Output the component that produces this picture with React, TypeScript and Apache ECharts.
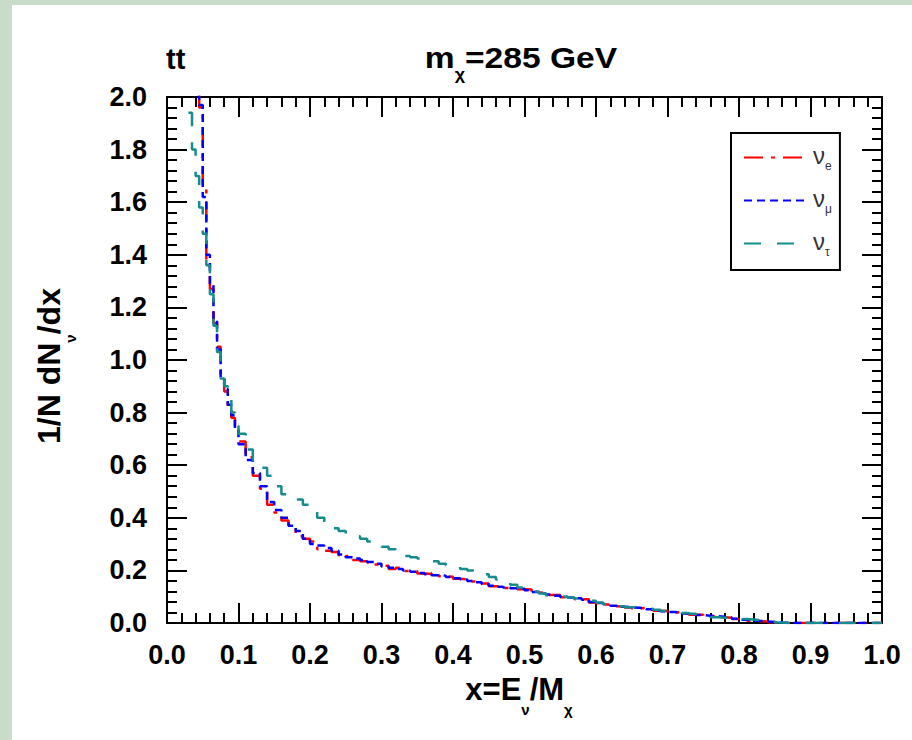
import React, { useEffect, useRef } from "react";
import * as echarts from "echarts";

// Bin left edges (x = E_nu / M_chi)
const binStart = [
  0.025, 0.03, 0.035, 0.04, 0.045, 0.05, 0.055, 0.06, 0.065, 0.07, 0.075, 0.08, 0.085, 0.09, 0.095,
  0.10, 0.11, 0.12, 0.13, 0.14, 0.15, 0.16, 0.17, 0.18, 0.19,
  0.20, 0.21, 0.22, 0.23, 0.24, 0.25, 0.26, 0.27, 0.28, 0.29,
  0.30, 0.31, 0.32, 0.33, 0.34, 0.35, 0.36, 0.37, 0.38, 0.39,
  0.40, 0.41, 0.42, 0.43, 0.44, 0.45, 0.46, 0.47, 0.48, 0.49,
  0.50, 0.51, 0.52, 0.53, 0.54, 0.55, 0.56, 0.57, 0.58, 0.59,
  0.60, 0.61, 0.62, 0.63, 0.64, 0.65, 0.66, 0.67, 0.68, 0.69,
  0.70, 0.71, 0.72, 0.73, 0.74, 0.75, 0.76, 0.77, 0.78, 0.79,
  0.80, 0.81, 0.82, 0.83, 0.84, 0.85, 0.86, 0.87, 0.88, 0.89,
  0.90, 0.91, 0.92, 0.93, 0.94, 0.95, 0.96, 0.97, 0.98, 0.99,
];
const xEnd = 1.0;

const nuE = [
  null, null, null, 2.6, 1.96, 1.65, 1.38, 1.27, 1.14, 1.05, 0.94, 0.88, 0.82, 0.78, 0.73,
  0.69, 0.63, 0.56, 0.51, 0.45, 0.42, 0.39, 0.37, 0.33, 0.32,
  0.31, 0.28, 0.275, 0.27, 0.25, 0.255, 0.24, 0.235, 0.23, 0.222,
  0.218, 0.205, 0.21, 0.198, 0.198, 0.188, 0.186, 0.19, 0.178, 0.176,
  0.168, 0.166, 0.158, 0.156, 0.15, 0.14, 0.14, 0.133, 0.134, 0.128,
  0.127, 0.116, 0.114, 0.106, 0.106, 0.098, 0.095, 0.09, 0.09, 0.078,
  0.075, 0.07, 0.064, 0.063, 0.059, 0.055, 0.057, 0.05, 0.047, 0.046,
  0.04, 0.041, 0.035, 0.031, 0.031, 0.027, 0.025, 0.022, 0.02, 0.015,
  0.013, 0.009, 0.007, 0.006, 0.003, 0.002, 0, 0, 0, 0,
  0, 0, 0, 0, 0, 0, 0, 0, 0, 0,
];

const nuMu = [
  null, null, null, 2.6, 1.97, 1.62, 1.4, 1.29, 1.15, 1.04, 0.93, 0.89, 0.83, 0.79, 0.74,
  0.68, 0.62, 0.57, 0.52, 0.46, 0.43, 0.4, 0.37, 0.35, 0.32,
  0.3, 0.295, 0.285, 0.275, 0.26, 0.25, 0.245, 0.24, 0.232, 0.225,
  0.215, 0.21, 0.205, 0.2, 0.195, 0.19, 0.185, 0.182, 0.18, 0.175,
  0.17, 0.165, 0.16, 0.155, 0.148, 0.142, 0.138, 0.135, 0.132, 0.13,
  0.125, 0.118, 0.112, 0.108, 0.104, 0.1, 0.097, 0.094, 0.088, 0.08,
  0.076, 0.071, 0.066, 0.062, 0.06, 0.058, 0.056, 0.052, 0.048, 0.045,
  0.042, 0.04, 0.036, 0.033, 0.03, 0.028, 0.026, 0.024, 0.021, 0.016,
  0.012, 0.01, 0.008, 0.006, 0.004, 0.002, 0, 0, 0, 0,
  0, 0, 0, 0, 0, 0, 0, 0, 0, 0,
];

const nuTau = [
  null, 1.94, 1.8, 1.7, 1.58, 1.48, 1.36, 1.25, 1.13, 1.03, 0.93, 0.9, 0.85, 0.8, 0.75,
  0.72, 0.66, 0.61, 0.59, 0.56, 0.52, 0.49, 0.48, 0.47, 0.45,
  0.43, 0.4, 0.38, 0.36, 0.35, 0.34, 0.33, 0.32, 0.31, 0.3,
  0.29, 0.28, 0.27, 0.255, 0.25, 0.245, 0.24, 0.235, 0.225, 0.22,
  0.215, 0.205, 0.2, 0.19, 0.185, 0.175, 0.165, 0.155, 0.145, 0.135,
  0.128, 0.12, 0.112, 0.105, 0.102, 0.1, 0.097, 0.093, 0.088, 0.085,
  0.078, 0.072, 0.068, 0.064, 0.06, 0.058, 0.056, 0.054, 0.05, 0.046,
  0.044, 0.042, 0.038, 0.035, 0.03, 0.026, 0.022, 0.02, 0.019, 0.018,
  0.015, 0.013, 0.011, 0.008, 0.005, 0.002, 0, 0, 0, 0,
  0, 0, 0, 0, 0, 0, 0, 0, 0, 0,
];

const seriesNames = ["ν_e", "ν_μ", "ν_τ"];
const legendSubs = ["e", "μ", "τ"];
const seriesColors = ["#ff0000", "#0000ff", "#178c8c"];
const seriesDash = [
  [19, 8, 4, 8],
  [8, 5],
  [17, 16],
];

const FONT = '"Liberation Sans", Arial, Helvetica, sans-serif';

function toSteps(vals: (number | null)[]) {
  const out: [number, number][] = [];
  let last: number | null = null;
  for (let i = 0; i < binStart.length; i++) {
    const v = vals[i];
    if (v !== null && v !== undefined) {
      out.push([binStart[i], v]);
      last = v;
    }
  }
  if (last !== null) out.push([xEnd, last]);
  return out;
}

const axisCommon = {
  type: "value" as const,
  axisLine: { show: true, onZero: false, lineStyle: { color: "#000", width: 2 } },
  axisTick: { show: true, inside: true, length: 20, lineStyle: { color: "#000", width: 2 } },
  minorTick: { show: true, splitNumber: 5, length: 10, lineStyle: { color: "#000", width: 2 } },
  splitLine: { show: false },
  minorSplitLine: { show: false },
};

const labelStyle = {
  fontSize: 27,
  fontWeight: "bold" as const,
  fontFamily: FONT,
  color: "#000",
};

export default function App() {
  const ref = useRef<HTMLDivElement>(null);

  useEffect(() => {
    const chart = echarts.init(ref.current!, null, { renderer: "svg" });
    const dataSets = [nuE, nuMu, nuTau];

    const option: any = {
      animation: false,
      backgroundColor: "transparent",
      grid: { left: 167, top: 97, right: 30, bottom: 117, containLabel: false },
      xAxis: [
        {
          ...axisCommon,
          min: 0,
          max: 1,
          interval: 0.1,
          position: "bottom",
          axisLabel: { ...labelStyle, margin: 18, formatter: (v: number) => v.toFixed(1) },
        },
        {
          ...axisCommon,
          min: 0,
          max: 1,
          interval: 0.1,
          position: "top",
          axisLabel: { show: false },
        },
      ],
      yAxis: [
        {
          ...axisCommon,
          min: 0,
          max: 2,
          interval: 0.2,
          position: "left",
          axisLabel: { ...labelStyle, margin: 20, formatter: (v: number) => v.toFixed(1) },
        },
        {
          ...axisCommon,
          min: 0,
          max: 2,
          interval: 0.2,
          position: "right",
          axisLabel: { show: false },
        },
      ],
      legend: {
        orient: "vertical",
        left: 731,
        top: 133,
        padding: [10, 8, 12, 12],
        itemGap: 14,
        itemWidth: 60,
        itemHeight: 14,
        borderColor: "#000",
        borderWidth: 2,
        backgroundColor: "#fff",
        data: seriesNames,
        itemStyle: { opacity: 0 },
        formatter: (name: string) => `{nu|ν}{sub|${legendSubs[seriesNames.indexOf(name)]}}`,
        textStyle: {
          rich: {
            nu: { fontSize: 24, lineHeight: 29, verticalAlign: "top", color: "#333", fontFamily: FONT, padding: [0, 0, 0, 4] },
            sub: { fontSize: 12, lineHeight: 12, verticalAlign: "bottom", color: "#333", fontFamily: FONT },
          },
        },
      },
      series: seriesNames.map((name, i) => ({
        name,
        type: "line",
        step: "end",
        symbol: "none",
        xAxisIndex: 0,
        yAxisIndex: 0,
        clip: true,
        data: toSteps(dataSets[i]),
        lineStyle: { color: seriesColors[i], width: 2.5, type: seriesDash[i] },
        itemStyle: { color: seriesColors[i] },
        z: 2 + i,
      })),
      graphic: [
        {
          type: "text",
          x: 166,
          y: 59,
          style: {
            text: "tt",
            fontSize: 29,
            fontWeight: "bold",
            fontFamily: FONT,
            fill: "#000",
            align: "left",
            verticalAlign: "middle",
          },
        },
        {
          type: "text",
          x: 521,
          y: 63,
          scaleX: 1.12,
          style: {
            text: "{m|m}{s|χ}{m|=285 GeV}",
            align: "center",
            verticalAlign: "middle",
            fill: "#000",
            rich: {
              m: { fontSize: 30, fontWeight: "bold", fontFamily: FONT, lineHeight: 40, verticalAlign: "top", fill: "#000" },
              s: { fontSize: 16, fontWeight: "bold", fontFamily: FONT, lineHeight: 16, verticalAlign: "bottom", fill: "#000" },
            },
          },
        },
        {
          type: "text",
          x: 519,
          y: 695,
          style: {
            text: "{m|x=E}{s|ν}{m|/M}{s|χ}",
            align: "center",
            verticalAlign: "middle",
            fill: "#000",
            rich: {
              m: { fontSize: 31, fontWeight: "bold", fontFamily: FONT, lineHeight: 43, verticalAlign: "top", fill: "#000" },
              s: { fontSize: 15, fontWeight: "bold", fontFamily: FONT, lineHeight: 15, verticalAlign: "bottom", fill: "#000" },
            },
          },
        },
        {
          type: "text",
          x: 55,
          y: 366,
          rotation: Math.PI / 2,
          style: {
            text: "{m|1/N dN}{s|ν}{m|/dx}",
            align: "center",
            verticalAlign: "middle",
            fill: "#000",
            rich: {
              m: { fontSize: 32, fontWeight: "bold", fontFamily: FONT, lineHeight: 45, verticalAlign: "top", fill: "#000" },
              s: { fontSize: 15, fontWeight: "bold", fontFamily: FONT, lineHeight: 15, verticalAlign: "bottom", fill: "#000" },
            },
          },
        },
      ],
    };

    chart.setOption(option);
    return () => chart.dispose();
  }, []);

  return (
    <div
      style={{
        position: "fixed",
        left: 0,
        top: 0,
        width: 912,
        height: 740,
        background: "#c9dcc9",
        overflow: "hidden",
      }}
    >
      <div style={{ position: "absolute", left: 12, top: 5, right: 0, bottom: 0, background: "#fff" }} />
      <div ref={ref} style={{ position: "absolute", left: 0, top: 0, width: 912, height: 740 }} />
    </div>
  );
}
